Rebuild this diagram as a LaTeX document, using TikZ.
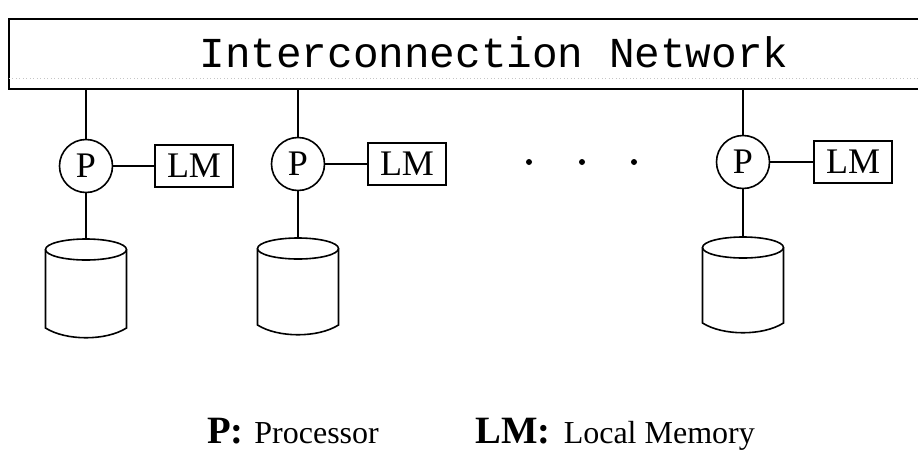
\documentclass[tikz,border=0pt]{standalone}
\usepackage{fontspec}
\setmainfont{Liberation Serif}
\setmonofont{Liberation Mono}
\usetikzlibrary{calc}

\begin{document}
\begin{tikzpicture}[x=0.75pt, y=-0.75pt]
                \tikzstyle{bus} = [draw, line width=1.6pt, minimum width=687pt, minimum height=52.5pt, inner sep=0pt]
                \tikzstyle{proc} = [draw, circle, line width=1.2pt, minimum size=39.75pt, inner sep=0pt, font=\fontsize{27}{27}\selectfont]
                \tikzstyle{mem} = [draw, rectangle, line width=1.2pt, minimum width=58.5pt, minimum height=31.5pt, inner sep=0pt, font=\fontsize{27}{27}\selectfont]
                \tikzstyle{link} = [line width=1.2pt]
                \tikzstyle{key} = [anchor=base west, inner sep=0pt]
                \useasboundingbox (0, 0) rectangle (918, 450);
                \node[bus] (net) at (467, 54) {};
                \draw[gray!45, dotted, line width=0.6pt] (9, 78) -- (918, 78);
                \node[anchor=base, font=\ttfamily\fontsize{32}{32}\selectfont] (netname) at (494, 67) {Interconnection Network};
                \foreach \i/\x/\y/\m/\t/\b in {1/86/166/194/239/328, 2/298/164/407/238/325, 3/743/162/853/237/323}
                {
                    \node[proc] (p\i) at (\x, \y) {P};
                    \node[mem] (lm\i) at (\m, \y) {LM};
                    \coordinate (disk\i) at (\x, \t);
                    \draw[link] (p\i |- net.south) -- (p\i);
                    \draw[link] (p\i) -- (lm\i);
                    \draw[link] (p\i) -- (disk\i);
                    \draw[link] (\x, \t + 10.5) ellipse [x radius=40.5, y radius=10.5];
                    \draw[link] (\x - 40.5, \t + 10.5) -- (\x - 40.5, \b)
                        .. controls (\x - 20, \b + 13) and (\x + 20, \b + 13) .. (\x + 40.5, \b)
                        -- (\x + 40.5, \t + 10.5);
                }
                \foreach \x in {529, 582, 634}
                    \fill (\x, 162) circle [radius=3];
                \node[key] (keyp) at (207, 443) {\fontsize{29}{29}\selectfont\bfseries P:\hspace{8pt}\mdseries\fontsize{24}{24}\selectfont Processor};
                \node[key] (keylm) at (475, 443) {\fontsize{29}{29}\selectfont\bfseries LM:\hspace{10pt}\mdseries\fontsize{24}{24}\selectfont Local Memory};
            \end{tikzpicture}
\end{document}
